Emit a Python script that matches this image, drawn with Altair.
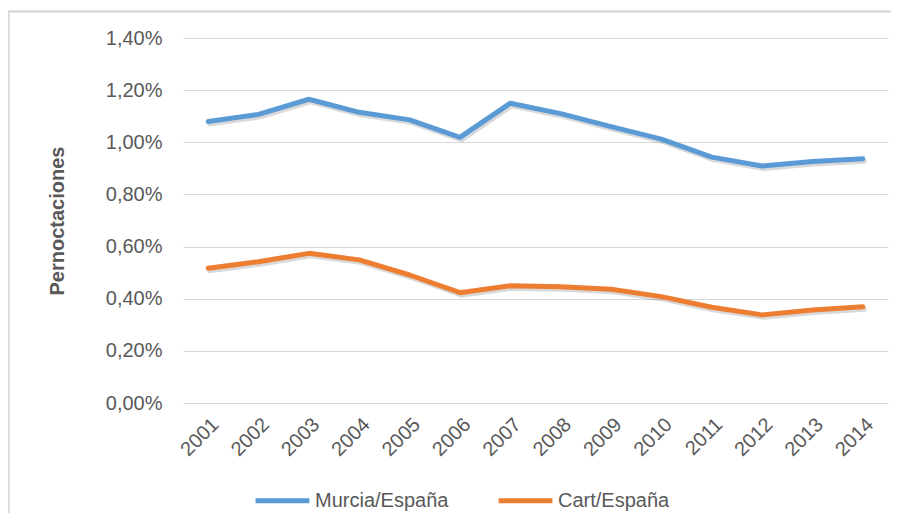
import altair as alt
import pandas as pd

years = ["2001", "2002", "2003", "2004", "2005", "2006", "2007",
         "2008", "2009", "2010", "2011", "2012", "2013", "2014"]
murcia = [1.080, 1.107, 1.165, 1.115, 1.086, 1.019, 1.150,
          1.110, 1.060, 1.012, 0.943, 0.909, 0.926, 0.937]
cart = [0.517, 0.542, 0.574, 0.549, 0.491, 0.423, 0.450,
        0.446, 0.436, 0.408, 0.367, 0.338, 0.357, 0.369]
series_names = ["Murcia/España", "Cart/España"]
series_colors = ["#5B9BD5", "#ED7D31"]
y_ticks = [0.0, 0.2, 0.4, 0.6, 0.8, 1.0, 1.2, 1.4]

rows = []
for name, vals in zip(series_names, [murcia, cart]):
    for yr, v in zip(years, vals):
        rows.append({"year": yr, "value": v, "series": name})
df = pd.DataFrame(rows)

FONT = "Liberation Sans"
GRAY = "#595959"

x_enc = alt.X("year:N", sort=years,
              scale=alt.Scale(type="point", padding=0.5),
              axis=alt.Axis(title=None, labelAngle=-45, labelFontSize=20,
                            labelColor=GRAY, labelFont=FONT, ticks=False,
                            domain=True, domainColor="#d9d9d9", domainWidth=1,
                            labelPadding=11, grid=False))
y_enc = alt.Y("value:Q",
              scale=alt.Scale(domain=[0, 1.4], nice=False, zero=True),
              axis=alt.Axis(title="Pernoctaciones", values=y_ticks,
                            labelExpr="replace(format(datum.value, '.2f'), '.', ',') + '%'",
                            labelFontSize=20, labelColor=GRAY, labelFont=FONT,
                            ticks=False, domain=False, gridColor="#d9d9d9",
                            gridWidth=1, labelPadding=21,
                            titleFontSize=20, titleFont=FONT, titleFontWeight="bold",
                            titleColor=GRAY, titlePadding=38))

shadow = alt.Chart(df).mark_line(
    strokeWidth=5, strokeCap="round", strokeJoin="round",
    color="#000000", opacity=0.15, xOffset=1.5, yOffset=2.5
).encode(x=x_enc, y=y_enc, detail="series:N")

lines = alt.Chart(df).mark_line(
    strokeWidth=5, strokeCap="round", strokeJoin="round"
).encode(
    x=x_enc, y=y_enc,
    color=alt.Color("series:N",
                    scale=alt.Scale(domain=series_names, range=series_colors),
                    sort=series_names,
                    legend=alt.Legend(title=None, orient="none", direction="horizontal",
                                      legendX=70, legendY=433,
                                      symbolType="stroke", symbolSize=2900,
                                      symbolStrokeWidth=5, labelFontSize=20,
                                      labelFont=FONT, labelColor=GRAY,
                                      labelOffset=3, columnPadding=39))
)

border_data = alt.Data(values=[{"k": 1}])
top_border = alt.Chart(border_data).mark_rule(color="#d9d9d9", strokeWidth=2.5).encode(
    x=alt.value(-176), x2=alt.value(730), y=alt.value(-26.5))
left_border = alt.Chart(border_data).mark_rule(color="#d9d9d9", strokeWidth=2.5).encode(
    x=alt.value(-174.5), y=alt.value(-27), y2=alt.value(520))

chart = alt.layer(top_border, left_border, shadow, lines).properties(
    width=705, height=365,
    background="white",
    autosize=alt.AutoSizeParams(type="none"),
    padding={"left": 175, "top": 30, "right": 3, "bottom": 110},
).configure_view(strokeWidth=0, stroke=None)

chart.save("out.html", embed_options={"renderer": "svg", "actions": False})
